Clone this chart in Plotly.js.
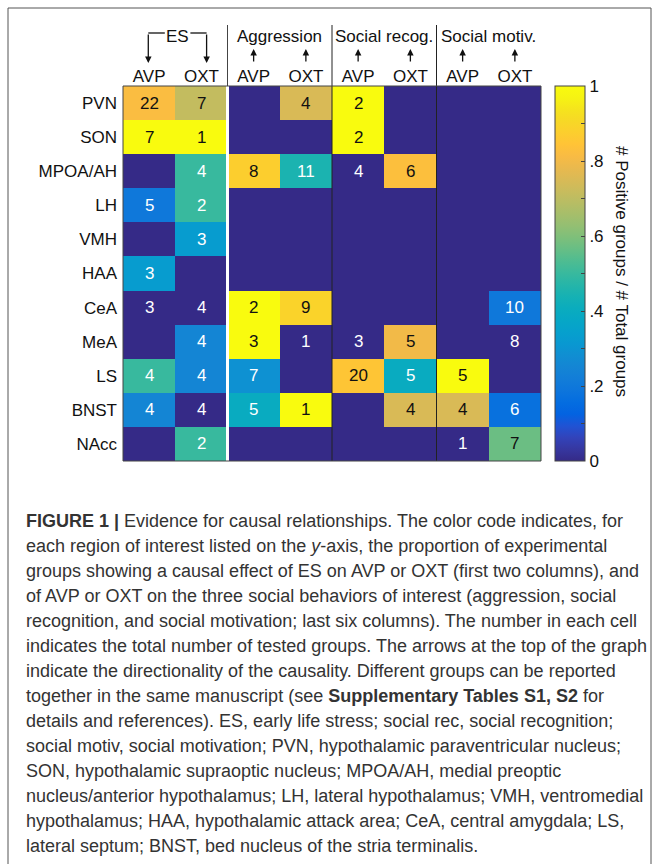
<!DOCTYPE html>
<html>
<head>
<meta charset="utf-8">
<script src="https://cdn.plot.ly/plotly-3.0.1.min.js"></script>
<style>html,body{margin:0;padding:0;background:#fff;}#chart{width:659px;height:864px;}</style>
</head>
<body>
<div id="chart"></div>
<script>
// ---------- data ----------
const regions = ['PVN','SON','MPOA/AH','LH','VMH','HAA','CeA','MeA','LS','BNST','NAcc'];
const columnLabels = ['AVP','OXT','AVP','OXT','AVP','OXT','AVP','OXT'];
const groupLabels = ['ES','Aggression','Social recog.','Social motiv.'];
const colorbarTickVals = [0,0.1,0.2,0.3,0.4,0.5,0.6,0.7,0.8,0.9,1];
const colorbarTickText = ['0','','.2','','.4','','.6','','.8','','1'];

// proportion of positive groups (null = no data), rows follow `regions`
const esAVP  = [0.82, 1, null, 0.2, null, 0.33, 0, null, 0.5, 0.25, null];
const esOXT  = [0.71, 1, 0.5, 0.5, 0.33, null, 0, 0.25, 0.25, 0, 0.5];
const aggAVP = [null, null, 0.875, null, null, null, 1, 1, 0.29, 0.4, null];
const aggOXT = [0.75, null, 0.45, null, null, null, 0.89, 0, null, 1, null];
const recAVP = [1, 1, 0, null, null, null, null, 0, 0.85, null, null];
const recOXT = [null, null, 0.83, null, null, null, null, 0.8, 0.4, 0.75, null];
const motAVP = [null, null, null, null, null, null, null, null, 1, 0.75, 0];
const motOXT = [null, null, null, null, null, null, 0.2, 0, null, 0.17, 0.57];

// total number of tested groups
const esAVPn  = [22, 7, null, 5, null, 3, 3, null, 4, 4, null];
const esOXTn  = [7, 1, 4, 2, 3, null, 4, 4, 4, 4, 2];
const aggAVPn = [null, null, 8, null, null, null, 2, 3, 7, 5, null];
const aggOXTn = [4, null, 11, null, null, null, 9, 1, null, 1, null];
const recAVPn = [2, 2, 4, null, null, null, null, 3, 20, null, null];
const recOXTn = [null, null, 6, null, null, null, null, 5, 5, 4, null];
const motAVPn = [null, null, null, null, null, null, null, null, 5, 4, 1];
const motOXTn = [null, null, null, null, null, null, 10, 8, null, 6, 7];

const captionLines = [
  '<b>FIGURE 1 |</b> Evidence for causal relationships. The color code indicates, for',
  'each region of interest listed on the <i>y</i>-axis, the proportion of experimental',
  'groups showing a causal effect of ES on AVP or OXT (first two columns), and',
  'of AVP or OXT on the three social behaviors of interest (aggression, social',
  'recognition, and social motivation; last six columns). The number in each cell',
  'indicates the total number of tested groups. The arrows at the top of the graph',
  'indicate the directionality of the causality. Different groups can be reported',
  'together in the same manuscript (see <b>Supplementary Tables S1, S2</b> for',
  'details and references). ES, early life stress; social rec, social recognition;',
  'social motiv, social motivation; PVN, hypothalamic paraventricular nucleus;',
  'SON, hypothalamic supraoptic nucleus; MPOA/AH, medial preoptic',
  'nucleus/anterior hypothalamus; LH, lateral hypothalamus; VMH, ventromedial',
  'hypothalamus; HAA, hypothalamic attack area; CeA, central amygdala; LS,',
  'lateral septum; BNST, bed nucleus of the stria terminalis.'
];

// ---------- parula colormap ----------
const parulaRGB = [
  [0.2081,0.1663,0.5292],[0.2123,0.2138,0.6270],[0.1959,0.2645,0.7279],[0.1253,0.3242,0.8303],
  [0.0117,0.3875,0.8820],[0.0165,0.4266,0.8786],[0.0498,0.4586,0.8641],[0.0723,0.4887,0.8467],
  [0.0793,0.5200,0.8312],[0.0641,0.5570,0.8240],[0.0343,0.5966,0.8199],[0.0239,0.6287,0.8038],
  [0.0228,0.6535,0.7768],[0.0384,0.6743,0.7436],[0.0843,0.6928,0.7062],[0.1453,0.7098,0.6646],
  [0.2178,0.7250,0.6193],[0.3022,0.7376,0.5712],[0.3953,0.7459,0.5244],[0.4871,0.7491,0.4840],
  [0.5709,0.7485,0.4494],[0.6473,0.7456,0.4188],[0.7184,0.7411,0.3905],[0.7858,0.7356,0.3633],
  [0.8507,0.7299,0.3360],[0.9139,0.7258,0.3063],[0.9739,0.7314,0.2666],[0.9990,0.7653,0.2164],
  [0.9880,0.8066,0.1794],[0.9697,0.8481,0.1475],[0.9589,0.8949,0.1132],[0.9661,0.9514,0.0755],
  [0.9763,0.9831,0.0538]
];
const toRGB = c => 'rgb(' + c.map(v => Math.round(v*255)).join(',') + ')';
const parula = parulaRGB.map((c,i) => [i/(parulaRGB.length-1), toRGB(c)]);

// ---------- build matrix ----------
const propCols = [esAVP, esOXT, aggAVP, aggOXT, recAVP, recOXT, motAVP, motOXT];
const countCols = [esAVPn, esOXTn, aggAVPn, aggOXTn, recAVPn, recOXTn, motAVPn, motOXTn];
const xIdx = columnLabels.map((_,i) => i);
const yIdx = regions.map((_,i) => i);
const z = regions.map((_, r) => propCols.map(col => col[r]));

const FONT = 'Liberation Sans, Arial, sans-serif';

// layout geometry (pixels -> paper)
const W = 659, H = 864, ml = 123, mr = 118, mt = 86, mb = 403;
const pw = W - ml - mr, ph = H - mt - mb;
const px2x = px => (px - ml) / pw;
const py2y = py => (H - mb - py) / ph;

const annotations = [];
// cell numbers
countCols.forEach((col, c) => {
  col.forEach((n, r) => {
    if (n === null) return;
    const p = propCols[c][r];
    annotations.push({
      x: c, y: r, xref: 'x', yref: 'y', text: String(n), showarrow: false,
      font: {family: FONT, size: 17, color: p >= 0.55 ? '#111' : '#ffffff'}
    });
  });
});
// group labels
const groupCenters = [0.543, 2.5, 4.5, 6.5];
groupLabels.forEach((g, i) => {
  annotations.push({
    x: groupCenters[i], y: py2y(36), xref: 'x', yref: 'paper', text: g, showarrow: false,
    font: {family: FONT, size: 17, color: '#111'}, xanchor: 'center', yanchor: 'middle'
  });
});
// up arrows for behaviour columns
for (let c = 2; c < 8; c++) {
  annotations.push({
    x: c, y: py2y(49), xref: 'x', yref: 'paper', text: '', showarrow: true,
    ax: 0, ay: 14, arrowhead: 2, arrowsize: 1, arrowwidth: 1.3, arrowcolor: '#111'
  });
}
// ES down arrows
[-0.016, 1.10].forEach(xv => {
  annotations.push({
    x: xv, y: py2y(63), xref: 'x', yref: 'paper', text: '', showarrow: true,
    ax: 0, ay: -30, arrowhead: 2, arrowsize: 1, arrowwidth: 1.3, arrowcolor: '#111'
  });
});
// colorbar title
annotations.push({
  x: px2x(622), y: py2y(271), xref: 'paper', yref: 'paper', text: '# Positive groups / # Total groups',
  textangle: 90, showarrow: false, font: {family: FONT, size: 17, color: '#111'},
  xanchor: 'center', yanchor: 'middle'
});
// caption
captionLines.forEach((t, i) => {
  annotations.push({
    x: px2x(24), y: py2y(521 + 25*i), xref: 'paper', yref: 'paper', text: t,
    showarrow: false, xanchor: 'left', yanchor: 'middle', align: 'left',
    font: {family: FONT, size: 18, color: '#333'}
  });
});

const shapes = [
  // outer frame
  {type: 'rect', xref: 'paper', yref: 'paper', x0: px2x(8), x1: px2x(651), y0: py2y(900), y1: py2y(8),
   line: {color: '#555', width: 1}, layer: 'below'},
  // header separators
  {type: 'line', xref: 'x', yref: 'paper', x0: 1.5, x1: 1.5, y0: 1, y1: py2y(25), line: {color: '#444', width: 1}},
  {type: 'line', xref: 'x', yref: 'paper', x0: 3.5, x1: 3.5, y0: 0, y1: py2y(25), line: {color: '#222', width: 1}},
  {type: 'line', xref: 'x', yref: 'paper', x0: 5.5, x1: 5.5, y0: 0, y1: py2y(25), line: {color: '#222', width: 1}},
  // white gap between ES and behaviour columns
  {type: 'line', xref: 'x', yref: 'paper', x0: 1.5, x1: 1.5, y0: 0, y1: 1, line: {color: '#ffffff', width: 3}},
  // plot box
  {type: 'rect', xref: 'paper', yref: 'paper', x0: 0, x1: 1, y0: 0, y1: 1, line: {color: '#444', width: 1}},
  // ES bracket horizontals
  {type: 'line', xref: 'x', yref: 'paper', x0: -0.016, x1: 0.30, y0: py2y(33), y1: py2y(33), line: {color: '#111', width: 1.3}},
  {type: 'line', xref: 'x', yref: 'paper', x0: 0.79, x1: 1.10, y0: py2y(33), y1: py2y(33), line: {color: '#111', width: 1.3}}
];

const trace = {
  type: 'heatmap', x: xIdx, y: yIdx, z: z, zmin: 0, zmax: 1,
  colorscale: parula, hoverongaps: false,
  colorbar: {
    x: px2x(555), xanchor: 'left', xpad: 0, ypad: 0, y: 0.5, yanchor: 'middle',
    thickness: 30, thicknessmode: 'pixels', len: 1, lenmode: 'fraction',
    outlinecolor: '#444', outlinewidth: 1,
    tickmode: 'array', tickvals: colorbarTickVals, ticktext: colorbarTickText,
    ticks: 'inside', ticklen: 4, tickcolor: '#444',
    tickfont: {family: FONT, size: 17, color: '#111'}
  }
};

const layout = {
  width: W, height: H,
  margin: {l: ml, r: mr, t: mt, b: mb, pad: 0},
  paper_bgcolor: '#ffffff', plot_bgcolor: toRGB(parulaRGB[0]),
  showlegend: false,
  xaxis: {
    side: 'top', tickmode: 'array', tickvals: xIdx, ticktext: columnLabels,
    range: [-0.5, 7.5], showgrid: false, zeroline: false, ticks: '', showline: false,
    tickfont: {family: FONT, size: 17, color: '#111'}, fixedrange: true
  },
  yaxis: {
    tickmode: 'array', tickvals: yIdx, ticktext: regions,
    range: [10.5, -0.5], showgrid: false, zeroline: false, ticks: '', showline: false,
    ticklabelstandoff: 5,
    tickfont: {family: FONT, size: 17, color: '#111'}, fixedrange: true
  },
  annotations: annotations,
  shapes: shapes
};

Plotly.newPlot('chart', [trace], layout, {displayModeBar: false, staticPlot: true});
</script>
</body>
</html>
